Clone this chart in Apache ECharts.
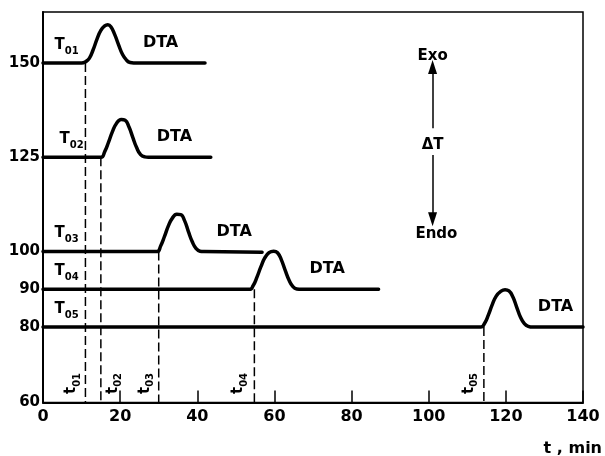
<!DOCTYPE html>
<html><head><meta charset="utf-8">
<script src="https://cdn.jsdelivr.net/npm/echarts@6/dist/echarts.min.js"></script>
<style>html,body{margin:0;padding:0;background:#fff}#c{width:605px;height:456px}</style>
</head><body><div id="c"></div>
<script>
// ---- data ----
const curveNames = ['T01', 'T02', 'T03', 'T04', 'T05'];
const subscripts = ['01', '02', '03', '04', '05'];
const baseLevels = [150, 125, 100, 90, 80];
const onsetTimes = [11, 15, 30, 54.8, 114.3];
const tLabelTimes = [3, 4.3, 3, 3, 3];
const dtaLabelTimes = [25.9, 29.5, 45.0, 69.1, 128.3];
const curve1 = [[0,150],[10,150],[11,150.3],[12,151.2],[13,153.5],[14,156.3],[15,158.6],[16,159.8],[16.8,160.1],[17.6,159.6],[18.6,157.5],[19.6,154.8],[20.6,152.3],[21.6,150.8],[22.6,150.1],[23.5,150],[42,150]];
const curve2 = [[0,125],[15,125],[16,126.5],[17,129],[18,131.8],[19,133.9],[20.3,135],[21.3,134.8],[22.3,133],[23.3,130.2],[24.3,127.5],[25.3,125.7],[26.4,125.1],[27.3,125],[43.5,125]];
const curve3 = [[0,100],[29.5,100],[30.5,101.5],[31.5,104],[32.5,106.8],[33.5,108.8],[34.7,109.9],[35.7,109.8],[36.7,108.2],[37.7,105.3],[38.7,102.6],[39.7,100.8],[40.7,100.1],[41.7,100],[56.8,99.8]];
const curve4 = [[0,90],[53.5,90],[54.5,91],[55.5,93.3],[56.5,96],[57.5,98.3],[58.6,99.7],[59.8,100.1],[60.8,99.7],[61.8,97.8],[62.8,95],[63.8,92.4],[64.8,90.7],[65.8,90.1],[67,90],[87,90]];
const curve5 = [[0,80],[113.5,80],[114.5,81],[115.5,83.3],[116.5,86],[117.5,88.2],[118.6,89.4],[119.8,89.9],[120.8,89.6],[121.8,88],[122.8,85.3],[123.8,82.6],[124.8,80.9],[125.8,80.2],[127,80],[140,80]];
const curves = [curve1, curve2, curve3, curve4, curve5];
const yTickLabels = [60, 80, 90, 100, 125, 150];
const xTickLabels = [0, 20, 40, 60, 80, 100, 120, 140];
const arrowTime = 101;
const arrowLevels = { exoText: 151.8, upTip: 148.9, upBase: 132.7, deltaText: 128.2, downBase: 125.6, downTip: 108.6, endoText: 104.6 };

// ---- chart ----
const FONT = 'DejaVu Sans';
const rich = {
  m: { fontSize: 15, fontFamily: FONT, fontWeight: 'bold', color: '#000' },
  s: { fontSize: 10, fontFamily: FONT, fontWeight: 'bold', color: '#000', padding: [12, 0, 0, 0] }
};
const labelSeriesBase = { type: 'scatter', symbolSize: 0, silent: true, itemStyle: { opacity: 1, color: '#000' }, z: 6 };
const series = [];
curves.forEach((c, i) => {
  series.push({
    type: 'line', name: curveNames[i], data: c, smooth: 0.5,
    symbol: 'none', lineStyle: { color: '#000', width: 3.5, join: 'round', cap: 'round' }, z: 5
  });
  series.push({
    type: 'line', data: [[onsetTimes[i], baseLevels[i]], [onsetTimes[i], 60]],
    symbol: 'none', lineStyle: { color: '#000', width: 1.5, type: [9, 4] }, z: 4
  });
});
// T0x labels
series.push(Object.assign({}, labelSeriesBase, {
  data: baseLevels.map((v, i) => ({ value: [tLabelTimes[i], v], name: subscripts[i] })),
  label: { show: true, position: 'top', align: 'left', verticalAlign: 'bottom', offset: [0, -2],
    formatter: p => '{m|T}{s|' + p.name + '}', rich: rich }
}));
// DTA labels
series.push(Object.assign({}, labelSeriesBase, {
  data: baseLevels.map((v, i) => [dtaLabelTimes[i], v]),
  label: { show: true, position: 'top', align: 'left', verticalAlign: 'middle', offset: [0, -15],
    formatter: 'DTA', fontSize: 16, fontWeight: 'bold', fontFamily: FONT, color: '#000' }
}));
// t0x rotated labels (offset is applied in the rotated frame)
const tOffsets = [-14, 12, -14, -16, -15];
series.push(Object.assign({}, labelSeriesBase, {
  data: onsetTimes.map((t, i) => ({ value: [t, 60], name: subscripts[i], label: { offset: [19, tOffsets[i]] } })),
  label: { show: true, position: 'inside', rotate: 90, align: 'center', verticalAlign: 'middle',
    formatter: p => '{m|t}{s|' + p.name + '}', rich: rich }
}));
// Exo / ΔT / Endo
series.push(Object.assign({}, labelSeriesBase, {
  data: [
    { value: [arrowTime, arrowLevels.exoText], name: 'Exo' },
    { value: [arrowTime, arrowLevels.deltaText], name: 'ΔT' },
    { value: [arrowTime + 1, arrowLevels.endoText], name: 'Endo' }
  ],
  label: { show: true, position: 'inside', formatter: '{b}', fontSize: 15, fontWeight: 'bold', fontFamily: FONT, color: '#000' },
  markLine: {
    silent: true, symbol: ['none', 'triangle'], symbolSize: [9, 14],
    lineStyle: { color: '#000', width: 1.5, type: 'solid' }, itemStyle: { color: '#000' }, label: { show: false },
    data: [
      [{ coord: [arrowTime, arrowLevels.upBase] }, { coord: [arrowTime, arrowLevels.upTip] }],
      [{ coord: [arrowTime, arrowLevels.downBase] }, { coord: [arrowTime, arrowLevels.downTip] }]
    ]
  }
}));

const chart = echarts.init(document.getElementById('c'), null, { renderer: 'canvas' });
chart.setOption({
  animation: false,
  backgroundColor: '#fff',
  grid: { left: 43, right: 22, top: 12, bottom: 53.5, show: true, borderColor: '#000', borderWidth: 1.5, backgroundColor: 'transparent' },
  xAxis: {
    type: 'value', min: 0, max: 140, interval: 20,
    axisLine: { lineStyle: { color: '#000', width: 2 } },
    axisTick: { inside: true, length: 12, lineStyle: { color: '#000', width: 1.5 } },
    axisLabel: { color: '#000', fontSize: 16, fontWeight: 'bold', fontFamily: FONT, margin: 6, customValues: xTickLabels },
    splitLine: { show: false }
  },
  yAxis: {
    type: 'value', min: 60, max: 163.5,
    axisLine: { show: true, lineStyle: { color: '#000', width: 2 } },
    axisTick: { show: false },
    axisLabel: { color: '#000', fontSize: 15, fontWeight: 'bold', fontFamily: FONT, margin: 3, customValues: yTickLabels },
    splitLine: { show: false }
  },
  graphic: [{ type: 'text', right: 3, top: 441, style: { text: 't , min', fontSize: 16, fontWeight: 'bold', fontFamily: FONT, fill: '#000' } }],
  series: series
});
</script></body></html>
